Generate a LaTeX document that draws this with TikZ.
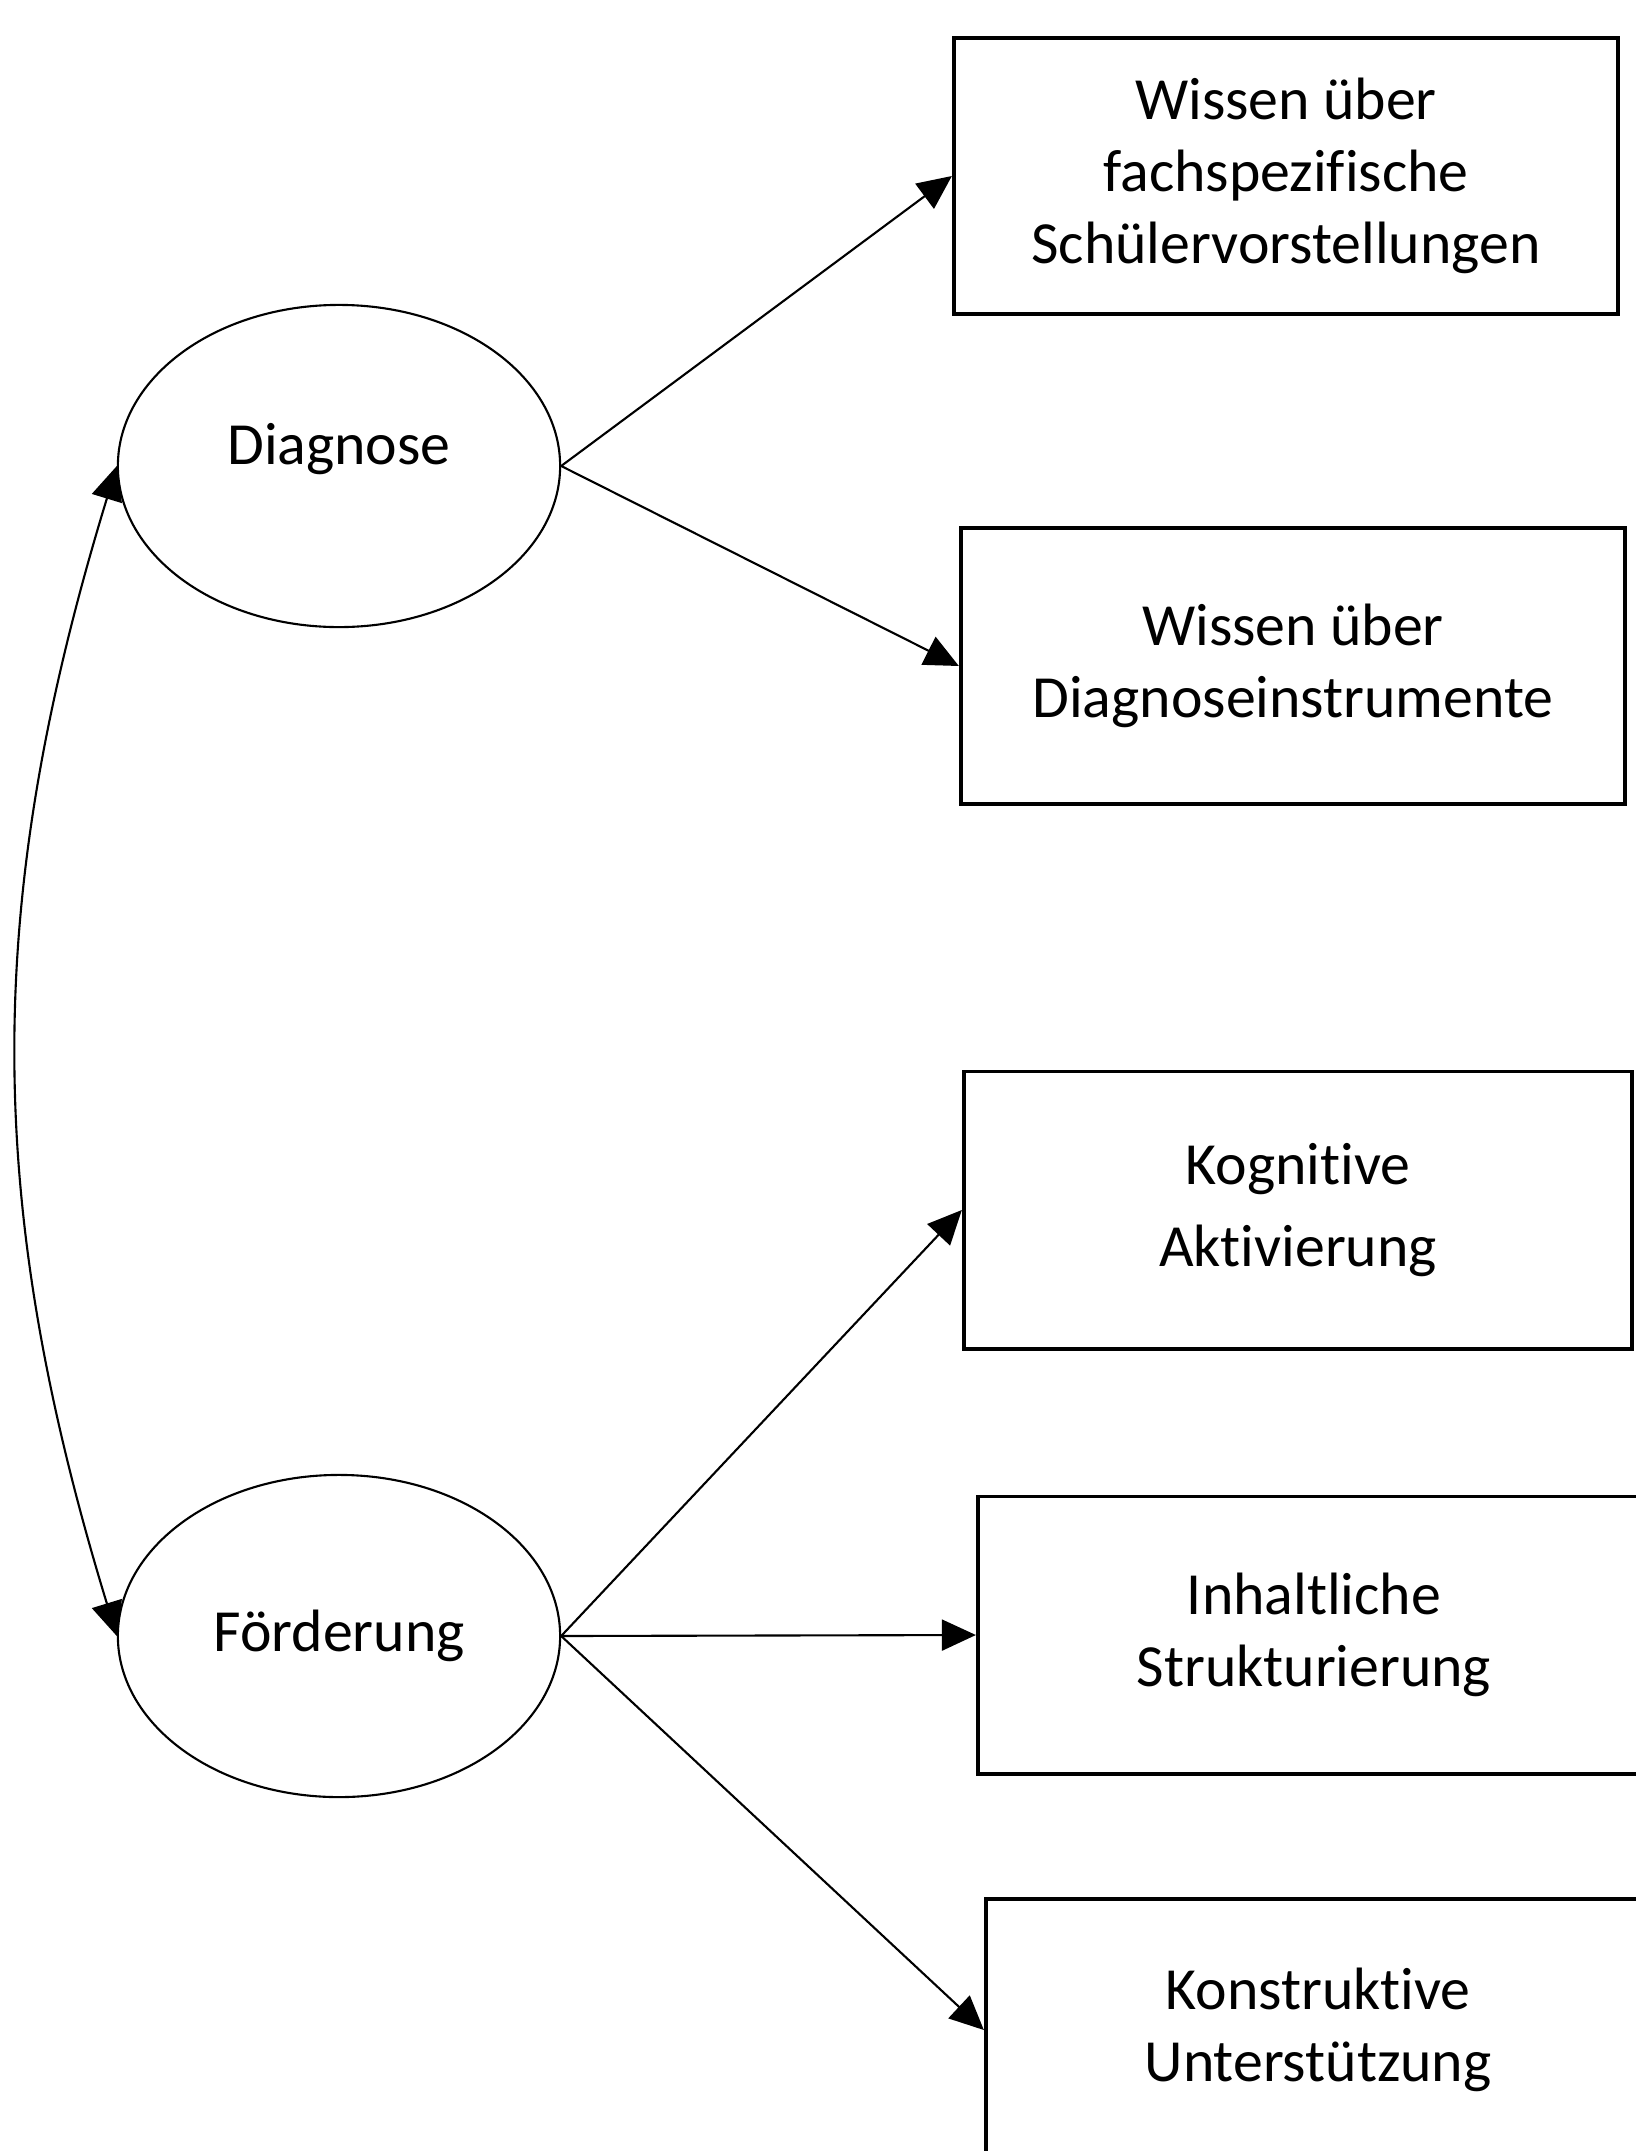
\documentclass[tikz,border=0pt]{standalone}
\usepackage{fontspec}
\setmainfont{Carlito}[Ligatures=CommonOff]
\usetikzlibrary{shapes.geometric, arrows.meta}

\tikzset{
  oval/.style={draw, ellipse, line width=.6pt, minimum width=4.42cm, minimum height=3.22cm,
    inner sep=0pt, font=\fontsize{17}{20.5}\selectfont},
  kasten/.style={draw, line width=1.1pt, minimum width=6.64cm, minimum height=2.76cm,
    align=center, inner sep=0pt, font=\fontsize{17}{20.5}\selectfont},
  pfeil/.style={->, line width=.6pt}
}

\begin{document}
\begin{tikzpicture}[x=0.01cm, y=-0.01cm, >={Triangle[length=0.34cm,width=0.31cm]}]
\useasboundingbox (0,0) rectangle (1636,2151);
\node[oval, text depth=0.45cm](dia) at (339,466){Diagnose};
\node[oval](foe) at (339,1636){Förderung};

\node[kasten](wfach) at (1286,176){Wissen über\\fachspezifische\\Schülervorstellungen};
\node[kasten](winst) at (1293,666){Wissen über\\Diagnoseinstrumente};
\node[kasten, minimum width=6.68cm, minimum height=2.77cm](kog) at (1298,1210){Kognitive\\[3pt]Aktivierung};
\node[kasten, minimum width=6.72cm, minimum height=2.77cm](inh) at (1314,1635){Inhaltliche\\Strukturierung};
\node[kasten, minimum height=2.62cm](kon) at (1318,2030){Konstruktive\\Unterstützung};

\draw[pfeil](dia.east)--(wfach.west);
\draw[pfeil](dia.east)--(winst.west);
\draw[pfeil](foe.east)--(kog.west);
\draw[pfeil](foe.east)--(inh.west);
\draw[pfeil](foe.east)--(kon.west);
\draw[pfeil, <->](dia.west) to[bend right=17] (foe.west);
\end{tikzpicture}
\end{document}
